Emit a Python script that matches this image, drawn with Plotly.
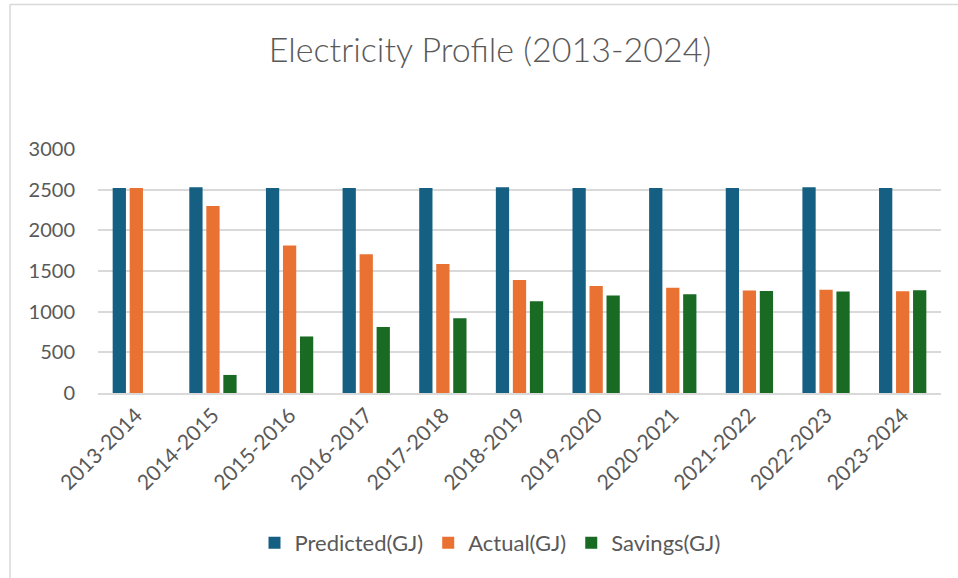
import plotly.graph_objects as go

years = ["2013-2014", "2014-2015", "2015-2016", "2016-2017", "2017-2018", "2018-2019",
         "2019-2020", "2020-2021", "2021-2022", "2022-2023", "2023-2024"]
predicted = [2520, 2530, 2520, 2520, 2520, 2530, 2520, 2520, 2520, 2530, 2520]
actual = [2520, 2300, 1815, 1705, 1585, 1390, 1315, 1295, 1260, 1270, 1250]
savings = [None, 222, 695, 810, 920, 1127, 1200, 1214, 1255, 1247, 1263]

W, H = 958, 578
L, R, T, B = 98, 17, 149, 185
pw, ph = W - L - R, H - T - B

def px(x):
    return (x - L) / pw

def py(y):
    return (H - B - y) / ph

grey = "#595959"
font = "Lato"

fig = go.Figure()
fig.add_bar(x=years, y=predicted, name="Predicted(GJ)", marker_color="#156082")
fig.add_bar(x=years, y=actual, name="Actual(GJ)", marker_color="#E97132")
fig.add_bar(x=years, y=savings, name="Savings(GJ)", marker_color="#196B24")

fig.update_traces(marker_line_width=0)

fig.update_layout(
    width=W, height=H,
    margin=dict(l=L, r=R, t=T, b=B, autoexpand=False),
    paper_bgcolor="white", plot_bgcolor="white",
    font=dict(family=font, color=grey, size=20),
    title=dict(text="Electricity Profile (2013-2024)", x=490 / W, xref="container", xanchor="center",
               y=1 - 50 / H, yanchor="middle", font=dict(size=34, color=grey, weight=300)),
    barmode="group", bargap=0.334, bargroupgap=0.22,
    showlegend=True,
    legend=dict(orientation="h", x=px(490), xanchor="center", y=py(543), yanchor="middle",
                font=dict(size=22, color=grey)),
    shapes=[
        dict(type="line", xref="paper", yref="paper", x0=px(10), x1=px(958), y0=py(4.5), y1=py(4.5),
             line=dict(color="#d9d9d9", width=1.5)),
        dict(type="line", xref="paper", yref="paper", x0=px(10), x1=px(10), y0=py(4.5), y1=py(578),
             line=dict(color="#d9d9d9", width=1.5)),
    ],
)
fig.update_yaxes(range=[0, 3000], dtick=500, showgrid=True, gridcolor="#d9d9d9", gridwidth=1.5,
                 zeroline=False, showline=False, ticks="", ticklabelstandoff=22, automargin=False,
                 tickfont=dict(size=20, color=grey))
fig.update_xaxes(tickangle=-45, showline=True, linecolor="#d9d9d9", linewidth=1.5, ticks="",
                 automargin=False, tickfont=dict(size=21, color=grey))

# drop the page's default body margin so the figure sits at the window's top-left
fig.write_html("out.html", config={"displayModeBar": False},
               post_script="document.body.style.margin='0';")
